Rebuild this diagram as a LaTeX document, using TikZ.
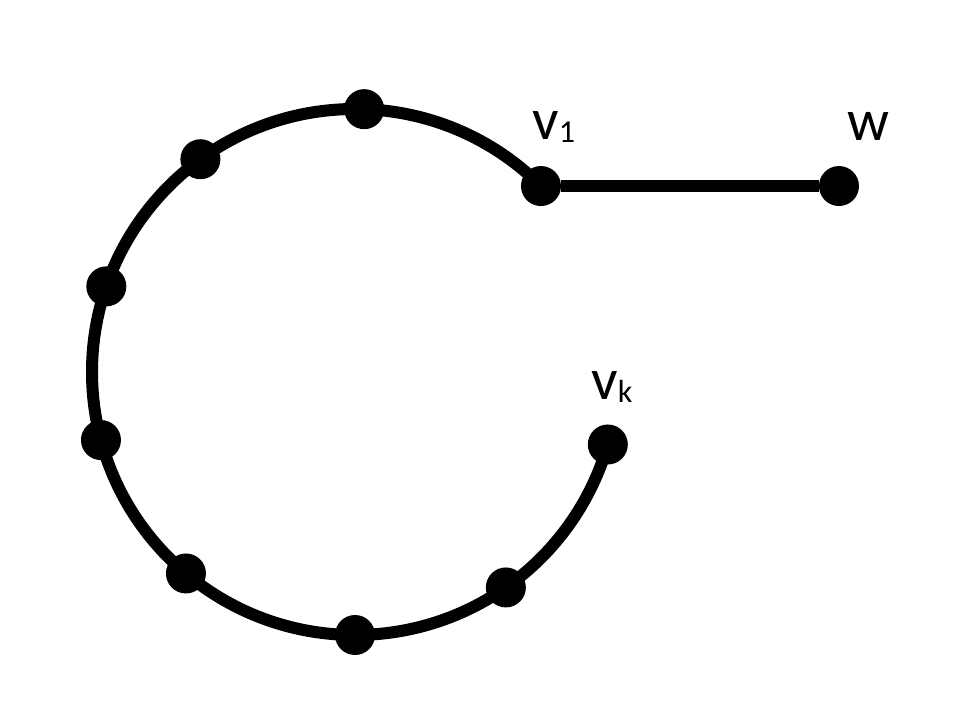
\documentclass[tikz,border=0pt]{standalone}
\usepackage{fontspec}
\setmainfont{Carlito}
\usetikzlibrary{backgrounds}
\newcommand{\vsub}[1]{\raisebox{-2pt}{\fontsize{24}{28}\selectfont #1}}
\begin{document}
\begin{tikzpicture}[
  x=0.75pt, y=0.75pt,
  dot/.style={circle, fill=black, inner sep=0pt, minimum size=30pt},
  edge/.style={line width=9pt, draw=black},
  lbl/.style={anchor=base west, inner sep=0pt, font=\fontsize{44}{52}\selectfont}
]
\useasboundingbox (0,0) rectangle (960,722);
% vertices on the cycle
\begin{scope}[shift={(355,350)}]
  \node[dot] (v1) at (45:263) {};
  \foreach \ang [count=\i] in {88,126,161,195,230,270,305}
    \node[dot] (u\i) at (\ang:263) {};
  \node[dot] (vk) at (344:263) {};
\end{scope}
\node[dot] (w) at ([xshift=223.5pt]v1) {};
% labels
\node[lbl] (lv1) at (532,582) {v\vsub{1}};
\node[lbl] (lw) at (847,581) {w};
\node[lbl] (lvk) at (591,322) {v\vsub{k}};
% edges
\begin{scope}[on background layer]
  \draw[edge] (v1.center) arc[start angle=45, end angle=344, radius=263];
  \draw[edge] (v1) -- (w);
\end{scope}
\end{tikzpicture}
\end{document}
